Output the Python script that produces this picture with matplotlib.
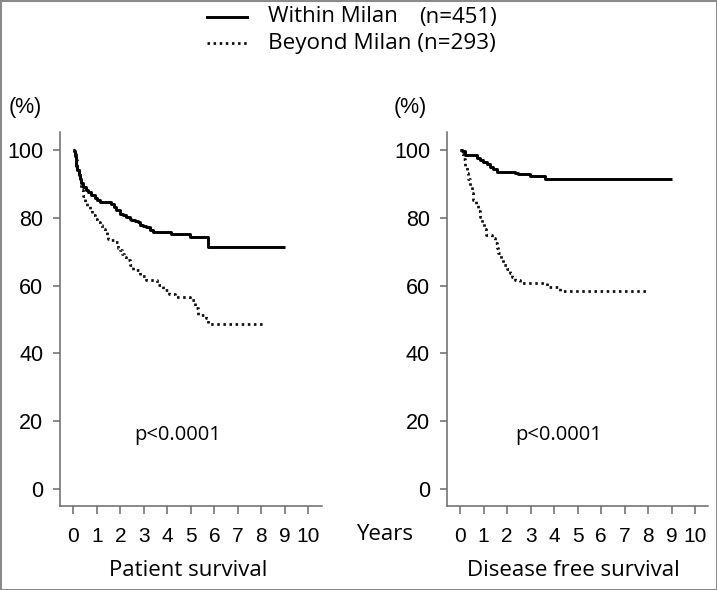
import matplotlib
matplotlib.use("Agg")
import matplotlib.pyplot as plt
from matplotlib.lines import Line2D
from matplotlib.patches import Rectangle

# ---- data (years, survival %) ----
ps_within_t = [0, 0.03, 0.06, 0.09, 0.13, 0.17, 0.22, 0.27, 0.34, 0.41, 0.52, 0.63, 0.77, 0.91, 1.02, 1.12, 1.62, 1.72, 1.83,
               1.97, 2.11, 2.25, 2.4, 2.47, 2.61, 2.75, 2.83, 2.97, 3.11, 3.25, 3.39, 4.17, 4.95, 5.73, 9.0]
ps_within_v = [100, 99.8, 98.4, 97.0, 95.5, 94.1, 92.8, 91.6, 90.4, 89.2, 88.4, 87.7, 86.8, 86.0, 85.3, 84.7, 84.0, 83.1, 82.3,
               81.3, 80.8, 80.3, 79.8, 79.5, 79.1, 78.8, 77.8, 77.5, 77.2, 76.5, 75.9, 75.4, 74.4, 71.4, 71.4]
ps_beyond_t = [0, 0.03, 0.09, 0.17, 0.27, 0.34, 0.41, 0.49, 0.6, 0.7, 0.8, 0.91, 1.02, 1.12, 1.23, 1.34, 1.41, 1.48, 1.62, 1.76,
               1.9, 1.97, 2.05, 2.15, 2.26, 2.4, 2.54, 2.83, 3.11, 3.54, 3.82, 4.05, 4.31, 4.95, 5.17, 5.31, 5.66, 5.74, 8.1]
ps_beyond_v = [100, 99.8, 97.0, 94.1, 91.6, 88.2, 86.4, 84.7, 83.5, 82.3, 81.0, 79.8, 78.8, 77.8, 76.8, 75.9, 74.9, 73.9, 73.4, 72.9,
               71.2, 70.5, 69.5, 68.5, 67.5, 66.0, 64.5, 63.0, 61.6, 60.1, 58.6, 57.6, 56.7, 55.7, 53.3, 51.3, 50.3, 48.6, 48.6]

dfs_within_t = [0, 0.07, 0.21, 0.71, 0.85, 0.99, 1.14, 1.28, 1.42, 1.56, 2.34, 2.48, 2.98, 3.62, 9.0]
dfs_within_v = [100, 99.8, 98.5, 97.8, 97.1, 96.5, 95.9, 95.2, 94.4, 93.7, 93.4, 92.9, 92.4, 91.4, 91.4]
dfs_beyond_t = [0, 0.07, 0.14, 0.21, 0.28, 0.35, 0.43, 0.5, 0.57, 0.67, 0.78, 0.85, 0.92, 1.01, 1.11, 1.35, 1.49, 1.56, 1.63,
                1.73, 1.84, 1.98, 2.13, 2.23, 2.34, 2.55, 3.55, 3.69, 4.18, 4.25, 7.97]
dfs_beyond_v = [100, 99.0, 97.3, 95.3, 93.4, 91.4, 89.4, 87.4, 85.4, 83.7, 82.0, 80.2, 78.5, 76.8, 75.1, 74.1, 72.6, 71.1, 69.6,
                67.9, 66.1, 64.9, 63.7, 62.7, 61.7, 60.7, 60.7, 59.7, 59.2, 58.5, 58.5]

x_ticks = list(range(0, 11))
y_ticks = [0, 20, 40, 60, 80, 100]
panel_titles = ["Patient survival", "Disease free survival"]
legend_labels = ["Within Milan", "(n=451)", "Beyond Milan (n=293)"]
p_text = "p<0.0001"

W, H = 717, 590
fig = plt.figure(figsize=(W / 100, H / 100), dpi=100)

def fx(px):
    return px / W

def fy(py):
    return 1 - py / H

ARIAL = ["Liberation Sans", "DejaVu Sans"]
MYR = ["Open Sans", "DejaVu Sans"]
spine_col = "#6a6a6a"
DOT = (0, (0.9, 1.3))

def make_axes(left_px, within, beyond, p_x, pct_x):
    ax = fig.add_axes([fx(left_px), fy(506), 261.7 / W, (506 - 132) / H])
    ax.step(within[0], within[1], where="post", color="black", lw=2.1, solid_capstyle="butt")
    ax.step(beyond[0], beyond[1], where="post", color="#111111", lw=2.0, linestyle=DOT)
    ax.set_xlim(-0.57, 10.57)
    ax.set_ylim(-5.1, 105.4)
    ax.set_xticks(x_ticks)
    ax.set_yticks(y_ticks)
    ax.set_xticklabels([str(t) for t in x_ticks], family=ARIAL, fontsize=15)
    ax.set_yticklabels([str(t) for t in y_ticks], family=ARIAL, fontsize=15.5)
    for s in ["top", "right"]:
        ax.spines[s].set_visible(False)
    for s in ["left", "bottom"]:
        ax.spines[s].set_color(spine_col)
        ax.spines[s].set_linewidth(1.1)
    ax.tick_params(axis="x", direction="out", length=6, width=1.1, color=spine_col, pad=9)
    ax.tick_params(axis="y", direction="out", length=5, width=1.1, color=spine_col, pad=7)
    fig.text(fx(p_x), fy(435), p_text, family=MYR, fontsize=14.5, ha="center", va="center")
    fig.text(fx(pct_x), fy(107), "(%)", family=ARIAL, fontsize=15.5, ha="center", va="center")
    return ax

make_axes(60, (ps_within_t, ps_within_v), (ps_beyond_t, ps_beyond_v), 178, 25)
make_axes(446.7, (dfs_within_t, dfs_within_v), (dfs_beyond_t, dfs_beyond_v), 558.6, 410)

fig.text(fx(188), fy(571), panel_titles[0], family=MYR, fontsize=16, ha="center", va="center")
fig.text(fx(573.5), fy(571), panel_titles[1], family=MYR, fontsize=16, ha="center", va="center")
fig.text(fx(385), fy(535), "Years", family=MYR, fontsize=16, ha="center", va="center")

# legend
fig.add_artist(Line2D([fx(207), fx(247)], [fy(17), fy(17)], color="black", lw=2.1))
fig.add_artist(Line2D([fx(207), fx(247)], [fy(43), fy(43)], color="#111111", lw=2.0, linestyle=DOT))
fig.text(fx(268), fy(17), legend_labels[0], family=MYR, fontsize=16, ha="left", va="center")
fig.text(fx(497), fy(17), legend_labels[1], family=MYR, fontsize=16, ha="right", va="center")
fig.text(fx(268), fy(43), legend_labels[2], family=MYR, fontsize=16.2, ha="left", va="center")

# border
fig.add_artist(Rectangle((0.0, 0.0), 1, 1, transform=fig.transFigure, fill=False,
                         edgecolor="#8a8a8a", lw=2.2))

fig.savefig("out.png", dpi=100)
